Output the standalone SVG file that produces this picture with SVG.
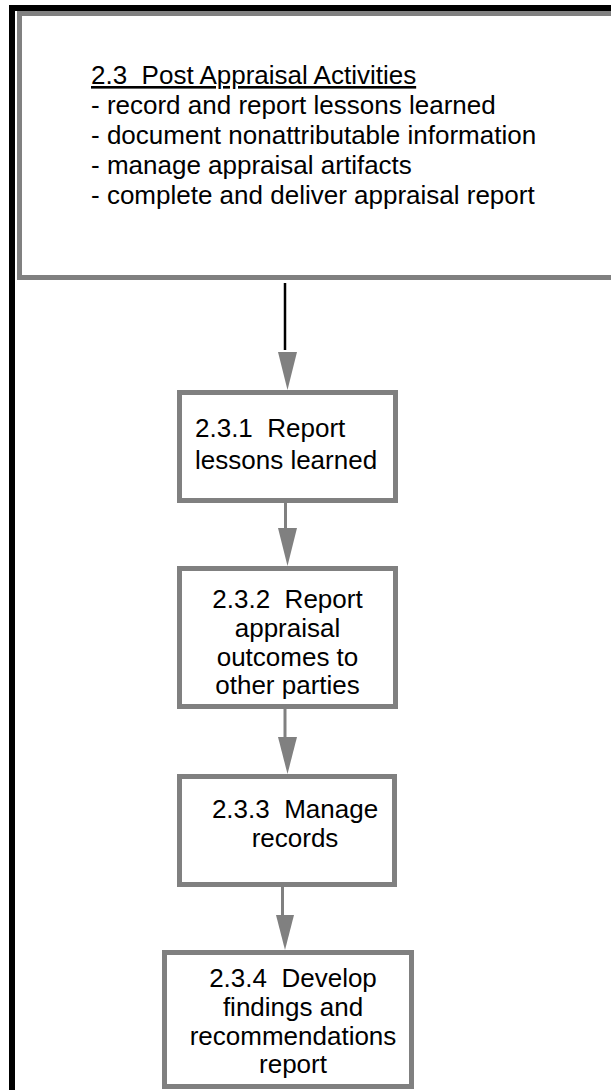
<svg xmlns="http://www.w3.org/2000/svg" width="611" height="1090" viewBox="0 0 611 1090">
  <style>
    .frame { fill: none; stroke: #000; stroke-width: 6; }
    .box { fill: #fff; stroke: #808080; stroke-width: 5; }
    .txt { font-family: "Liberation Sans", Arial, sans-serif; font-size: 26px; fill: #000; white-space: pre; }
    .mid { text-anchor: middle; }
    .head { fill: #808080; stroke: none; }
    .link { stroke: #808080; stroke-width: 3; fill: none; }
    .link-dark { stroke: #000; stroke-width: 2.5; fill: none; }
  </style>

  <rect x="0" y="0" width="611" height="1090" fill="#fff"/>

  <!-- outer page frame -->
  <path class="frame" d="M12 1090 V8 H611"/>

  <!-- phase summary -->
  <g id="phase-2-3">
    <rect class="box" x="19.5" y="13.5" width="620" height="264"/>
    <text class="txt" x="91" y="84"><tspan text-decoration="underline">2.3&#160; Post Appraisal Activities</tspan><tspan x="91" dy="30">- record and report lessons learned</tspan><tspan x="91" dy="30">- document nonattributable information</tspan><tspan x="91" dy="30">- manage appraisal artifacts</tspan><tspan x="91" dy="30">- complete and deliver appraisal report</tspan></text>
  </g>

  <g id="step-2-3-1">
    <rect class="box" x="179.5" y="392.5" width="216" height="108"/>
    <text class="txt" x="195" y="437">2.3.1&#160; Report<tspan x="195" dy="32">lessons learned</tspan></text>
  </g>

  <g id="step-2-3-2">
    <rect class="box" x="179.5" y="568.5" width="216" height="138"/>
    <text class="txt mid" x="287.5" y="608">2.3.2&#160; Report<tspan x="287.5" dy="29">appraisal</tspan><tspan x="287.5" dy="28.5">outcomes to</tspan><tspan x="287.5" dy="28.5">other parties</tspan></text>
  </g>

  <g id="step-2-3-3">
    <rect class="box" x="179.5" y="776.5" width="215" height="108"/>
    <text class="txt mid" x="295" y="818">2.3.3&#160; Manage<tspan x="295" dy="29">records</tspan></text>
  </g>

  <g id="step-2-3-4">
    <rect class="box" x="164.5" y="952.5" width="247" height="134"/>
    <text class="txt mid" x="293" y="987">2.3.4&#160; Develop<tspan x="293" dy="28.5">findings and</tspan><tspan x="293" dy="29">recommendations</tspan><tspan x="293" dy="28.5">report</tspan></text>
  </g>

  <!-- connectors -->
  <g id="connectors">
    <line class="link-dark" x1="285" y1="283" x2="285" y2="350"/>
    <polygon class="head" points="278,352 297,352 287.5,390"/>

    <line class="link" x1="285.5" y1="503" x2="285.5" y2="529"/>
    <polygon class="head" points="278,528 297,528 287.5,566"/>

    <line class="link" x1="285" y1="709" x2="285" y2="738"/>
    <polygon class="head" points="278,737 297,737 287.5,774"/>

    <line class="link" x1="282.5" y1="887" x2="282.5" y2="916"/>
    <polygon class="head" points="276,915 294,915 285,950"/>
  </g>
</svg>
